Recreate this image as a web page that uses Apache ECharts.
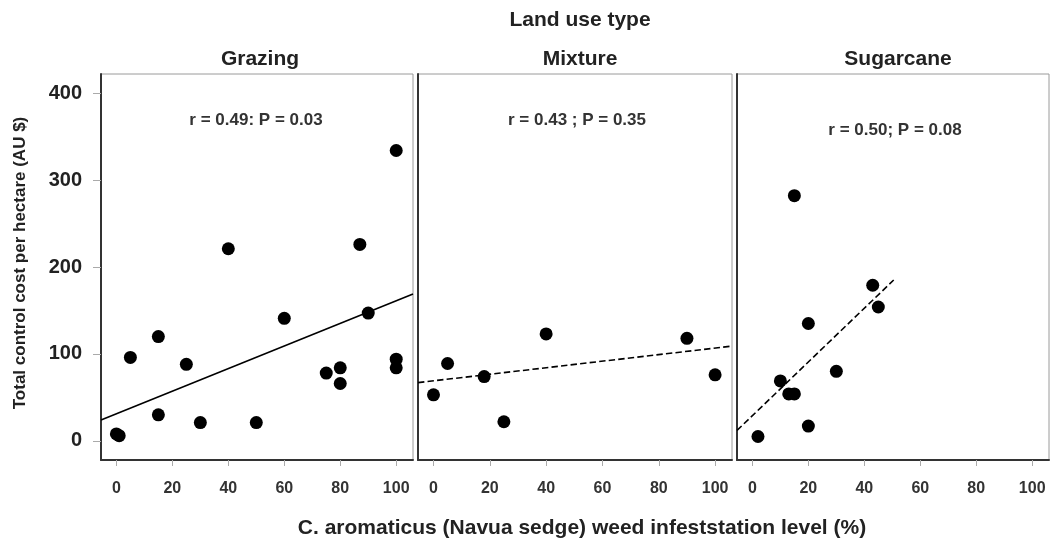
<!DOCTYPE html>
<html><head><meta charset="utf-8">
<script src="https://cdn.jsdelivr.net/npm/echarts@6/dist/echarts.min.js"></script>
<style>html,body{margin:0;padding:0;background:#fff}#c{width:1051px;height:544px}</style>
</head><body><div id="c"></div>
<script>
const panels = ['Grazing', 'Mixture', 'Sugarcane'];
const grazingX = [0, 1, 5, 15, 15, 25, 30, 40, 50, 60, 75, 80, 80, 87, 90, 100, 100, 100];
const grazingY = [8, 6, 96, 120, 30, 88, 21, 221, 21, 141, 78, 84, 66, 226, 147, 334, 94, 84];
const mixtureX = [0, 5, 18, 25, 40, 90, 100];
const mixtureY = [53, 89, 74, 22, 123, 118, 76];
const sugarX = [2, 10, 13, 15, 15, 20, 20, 30, 43, 45];
const sugarY = [5, 69, 54, 54, 282, 135, 17, 80, 179, 154];
const fitX = [[-5.5, 106], [-5.5, 106], [-5.5, 50.5]];
const fitY = [[24, 169], [67, 109], [12, 185]];
const fitStyle = ['solid', 'dashed', 'dashed'];
const stats = ['r = 0.49: P = 0.03', 'r = 0.43 ; P = 0.35', 'r = 0.50; P = 0.08'];
const xTicks = [0, 20, 40, 60, 80, 100];
const yTicks = [0, 100, 200, 300, 400];

const pts = [[grazingX, grazingY], [mixtureX, mixtureY], [sugarX, sugarY]];
const lefts = [101, 418, 737];
const widths = [312, 314, 312];
const titleX = [255, 575, 893];
const statPos = [[251, 117], [572, 117], [890, 127]];
const font = 'Liberation Sans, Arial, sans-serif';

const grids = [], xAxes = [], yAxes = [], series = [], titles = [];
titles.push({text: 'Land use type', left: 575, top: 5, textAlign: 'center',
  textStyle: {fontFamily: font, fontSize: 21, fontWeight: 'bold', color: '#222'}});
for (let i = 0; i < 3; i++) {
  grids.push({left: lefts[i], top: 74, width: widths[i], height: 386, show: true,
    borderColor: '#9a9a9a', borderWidth: 1, backgroundColor: '#fff'});
  xAxes.push({type: 'value', gridIndex: i, min: -5.5, max: 106,
    axisLine: {show: true, onZero: false, lineStyle: {color: '#333', width: 2}},
    axisTick: {show: true, length: 6, customValues: xTicks, lineStyle: {color: '#aaa'}},
    axisLabel: {customValues: xTicks, margin: 21, fontFamily: font, fontSize: 16, fontWeight: 'bold', color: '#333'},
    splitLine: {show: false}});
  yAxes.push({type: 'value', gridIndex: i, min: -22, max: 422,
    axisLine: {show: true, onZero: false, lineStyle: {color: '#333', width: 2}},
    axisTick: {show: i === 0, length: 8, customValues: yTicks, lineStyle: {color: '#aaa'}},
    axisLabel: {show: i === 0, customValues: yTicks, margin: 19, fontFamily: font, fontSize: 20, fontWeight: 'bold', color: '#222'},
    splitLine: {show: false}});
  series.push({type: 'scatter', xAxisIndex: i, yAxisIndex: i, symbolSize: 13,
    itemStyle: {color: '#000', opacity: 1}, data: pts[i][0].map((x, k) => [x, pts[i][1][k]])});
  series.push({type: 'line', xAxisIndex: i, yAxisIndex: i, symbol: 'none',
    lineStyle: {color: '#000', width: 1.6, type: fitStyle[i]},
    data: fitX[i].map((x, k) => [x, fitY[i][k]]), z: 1});
  titles.push({text: panels[i], left: titleX[i], top: 44, textAlign: 'center',
    textStyle: {fontFamily: font, fontSize: 21, fontWeight: 'bold', color: '#222'}});
  titles.push({text: stats[i], left: statPos[i][0], top: statPos[i][1] - 10, textAlign: 'center',
    textStyle: {fontFamily: font, fontSize: 17, fontWeight: 'bold', color: '#333'}});
}
titles.push({text: 'C. aromaticus (Navua sedge) weed infeststation level (%)', left: 577, top: 513, textAlign: 'center',
  textStyle: {fontFamily: font, fontSize: 21, fontWeight: 'bold', color: '#222'}});

const chart = echarts.init(document.getElementById('c'), null, {renderer: 'canvas'});
chart.setOption({
  animation: false,
  title: titles,
  grid: grids, xAxis: xAxes, yAxis: yAxes, series: series,
  graphic: [{type: 'text', x: 20, y: 263, rotation: Math.PI / 2,
    style: {text: 'Total control cost per hectare (AU $)', fontFamily: font, fontSize: 17, fontWeight: 'bold',
      fill: '#222', align: 'center', verticalAlign: 'middle'}}]
});
</script></body></html>
